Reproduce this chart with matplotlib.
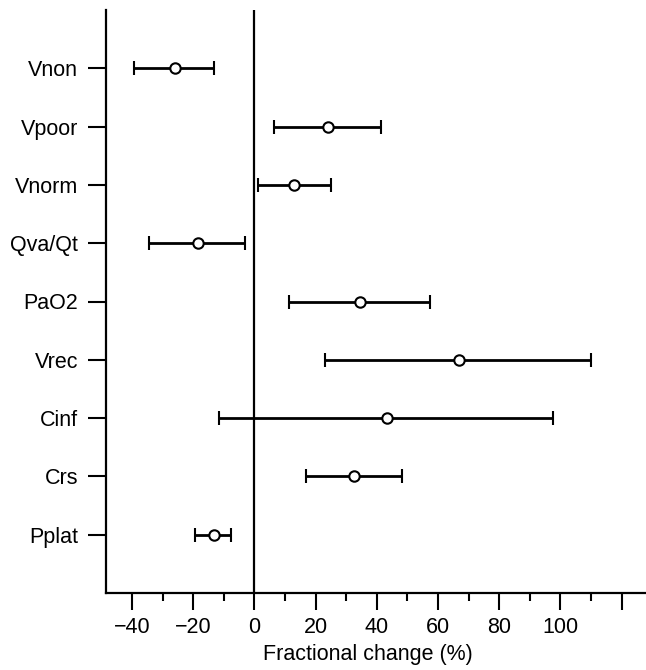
import matplotlib
matplotlib.use("Agg")
import matplotlib.pyplot as plt
from matplotlib.ticker import MultipleLocator

plt.rcParams['font.family'] = ['Liberation Sans', 'DejaVu Sans']

categories = ["Pplat", "Crs", "Cinf", "Vrec", "PaO2", "Qva/Qt", "Vnorm", "Vpoor", "Vnon"]
center = [-13.3, 32.6, 43.4, 67.0, 34.5, -18.5, 13.1, 24.0, -26.0]
lower = [-19.4, 16.9, -11.6, 23.2, 11.2, -34.3, 1.2, 6.3, -39.2]
upper = [-7.6, 48.1, 97.6, 110.0, 57.4, -3.2, 24.9, 41.5, -13.3]
xticks = [-40, -20, 0, 20, 40, 60, 80, 100, 120]
xticklabels = ["\u221240", "\u221220", "0", "20", "40", "60", "80", "100", ""]

fig = plt.figure(figsize=(6.46, 6.70), dpi=100)
ax = fig.add_axes([0.164, 0.115, 0.836, 0.870])

ypos = list(range(1, len(categories) + 1))
xerr = [[c - l for c, l in zip(center, lower)], [u - c for c, u in zip(center, upper)]]
ax.errorbar(center, ypos, xerr=xerr, fmt='o', color='black', mfc='white', mec='black',
            ms=7.5, mew=1.5, elinewidth=2.0, capsize=5, capthick=2.0, zorder=3)

ax.axvline(0, color='black', lw=1.6, zorder=1)

ax.set_xlim(-48.5, 128)
ax.set_ylim(0, 10)
ax.set_yticks(ypos)
ax.set_yticklabels(categories)
ax.set_xticks(xticks)
ax.set_xticklabels(xticklabels)
ax.xaxis.set_minor_locator(MultipleLocator(10))
ax.tick_params(axis='y', length=13, width=1.5, labelsize=15.5, pad=7)
ax.tick_params(axis='x', which='major', length=12, width=1.5, labelsize=15.5, pad=5)
ax.tick_params(axis='x', which='minor', length=6, width=1.5)
for s in ['top', 'right']:
    ax.spines[s].set_visible(False)
for s in ['left', 'bottom']:
    ax.spines[s].set_linewidth(1.6)
ax.set_xlabel("Fractional change (%)", fontsize=15.5, labelpad=9)
ax.xaxis.set_label_coords(0.485, -0.088)

fig.savefig("out.png", dpi=100)
